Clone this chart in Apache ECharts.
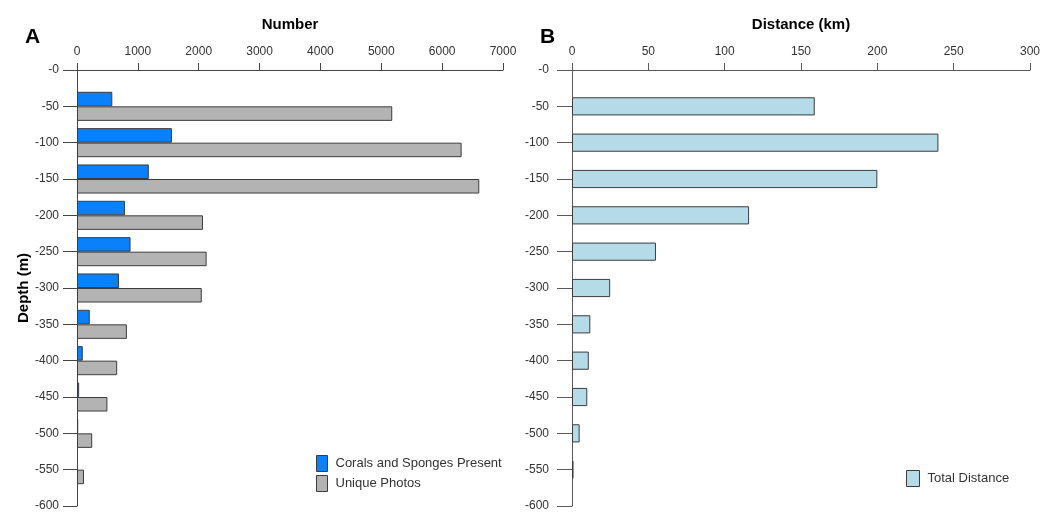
<!DOCTYPE html>
<html>
<head>
<meta charset="utf-8">
<script src="https://cdn.jsdelivr.net/npm/echarts@6/dist/echarts.min.js"></script>
<style>
  html, body { margin: 0; padding: 0; background: #fff; }
  #chart { width: 1052px; height: 512px; }
</style>
</head>
<body>
<div id="chart"></div>
<script>
// Depth bins (m), shown from the surface downwards
const depthLabels = ['-0', '-50', '-100', '-150', '-200', '-250', '-300', '-350', '-400', '-450', '-500', '-550', '-600'];

// Panel A: counts per depth bin
const coralsSponges = [null, 580, 1560, 1180, 790, 880, 690, 210, 95, 35, 20, null, null];
const uniquePhotos  = [null, 5180, 6320, 6610, 2070, 2130, 2050, 820, 660, 500, 250, 115, null];

// Panel B: survey distance per depth bin (km)
const totalDistance = [null, 159, 240, 200, 116, 55, 25, 12, 11, 10, 5, 1, null];

const FONT = '"Liberation Sans", Arial, sans-serif';
const AXIS_DARK = '#444';
const TEXT = '#333';
const BORDER = '#3c3c3c';

const chart = echarts.init(document.getElementById('chart'), null, { renderer: 'canvas' });

function depthAxis(gridIndex, labelMargin, tickLen, lineColor, withName) {
  const ax = {
    type: 'category',
    gridIndex: gridIndex,
    data: depthLabels,
    inverse: true,
    boundaryGap: false,
    axisLine: { show: true, lineStyle: { color: lineColor, width: 1 } },
    axisTick: { show: true, length: tickLen, lineStyle: { color: lineColor } },
    axisLabel: { color: TEXT, fontFamily: FONT, fontSize: 12, margin: labelMargin, interval: 0 },
    splitLine: { show: false }
  };
  if (withName) {
    ax.name = 'Depth (m)';
    ax.nameLocation = 'middle';
    ax.nameRotate = 90;
    ax.nameGap = 41;
    ax.nameTextStyle = { fontFamily: FONT, fontSize: 15, fontWeight: 'bold', color: '#000' };
  }
  return ax;
}

function valueAxis(gridIndex, name, max, interval, lineColor) {
  return {
    type: 'value',
    gridIndex: gridIndex,
    position: 'top',
    min: 0,
    max: max,
    interval: interval,
    name: name,
    nameLocation: 'middle',
    nameGap: 38,
    nameTextStyle: { fontFamily: FONT, fontSize: 15, fontWeight: 'bold', color: '#000' },
    axisLine: { show: true, lineStyle: { color: lineColor, width: 1 } },
    axisTick: { show: true, inside: false, length: 7, lineStyle: { color: lineColor } },
    axisLabel: { color: TEXT, fontFamily: FONT, fontSize: 12, margin: 12,
                 formatter: function (v) { return String(v); } },
    splitLine: { show: false }
  };
}

const option = {
  backgroundColor: '#fff',
  animation: false,
  textStyle: { fontFamily: FONT },
  title: [
    { text: 'A', left: 25, top: 27, padding: 0,
      textStyle: { fontFamily: FONT, fontSize: 21, fontWeight: 'bold', color: '#000' } },
    { text: 'B', left: 540, top: 27, padding: 0,
      textStyle: { fontFamily: FONT, fontSize: 21, fontWeight: 'bold', color: '#000' } }
  ],
  grid: [
    { left: 77, top: 70, width: 426, height: 437, containLabel: false },
    { left: 572, top: 70, width: 458, height: 437, containLabel: false }
  ],
  xAxis: [
    valueAxis(0, 'Number', 7000, 1000, AXIS_DARK),
    valueAxis(1, 'Distance (km)', 300, 50, '#5a5a5a')
  ],
  yAxis: [
    depthAxis(0, 18, 14, AXIS_DARK, true),
    depthAxis(1, 23, 15, '#5a5a5a', false)
  ],
  legend: [
    {
      left: 316, top: 455, orient: 'vertical', padding: 0,
      itemWidth: 11, itemHeight: 16, itemGap: 3,
      icon: 'rect',
      data: ['Corals and Sponges Present', 'Unique Photos'],
      itemStyle: { borderWidth: 1 },
      textStyle: { fontFamily: FONT, fontSize: 13, color: TEXT, padding: [0, 0, 0, 3] },
      selectedMode: false
    },
    {
      left: 906, top: 470, orient: 'vertical', padding: 0,
      itemWidth: 13, itemHeight: 16,
      icon: 'rect',
      data: ['Total Distance'],
      itemStyle: { borderWidth: 1 },
      textStyle: { fontFamily: FONT, fontSize: 13, color: TEXT, padding: [0, 0, 0, 3] },
      selectedMode: false
    }
  ],
  series: [
    {
      name: 'Corals and Sponges Present',
      type: 'bar',
      xAxisIndex: 0, yAxisIndex: 0,
      data: coralsSponges,
      barGap: '0%',
      barCategoryGap: '20%',
      itemStyle: { color: '#0a80fb', borderColor: BORDER, borderWidth: 1 }
    },
    {
      name: 'Unique Photos',
      type: 'bar',
      xAxisIndex: 0, yAxisIndex: 0,
      data: uniquePhotos,
      barGap: '0%',
      barCategoryGap: '20%',
      itemStyle: { color: '#b3b3b3', borderColor: BORDER, borderWidth: 1 }
    },
    {
      name: 'Total Distance',
      type: 'bar',
      xAxisIndex: 1, yAxisIndex: 1,
      data: totalDistance,
      barCategoryGap: '50%',
      itemStyle: { color: '#b5dbe9', borderColor: BORDER, borderWidth: 1 }
    }
  ]
};

chart.setOption(option);
</script>
</body>
</html>
